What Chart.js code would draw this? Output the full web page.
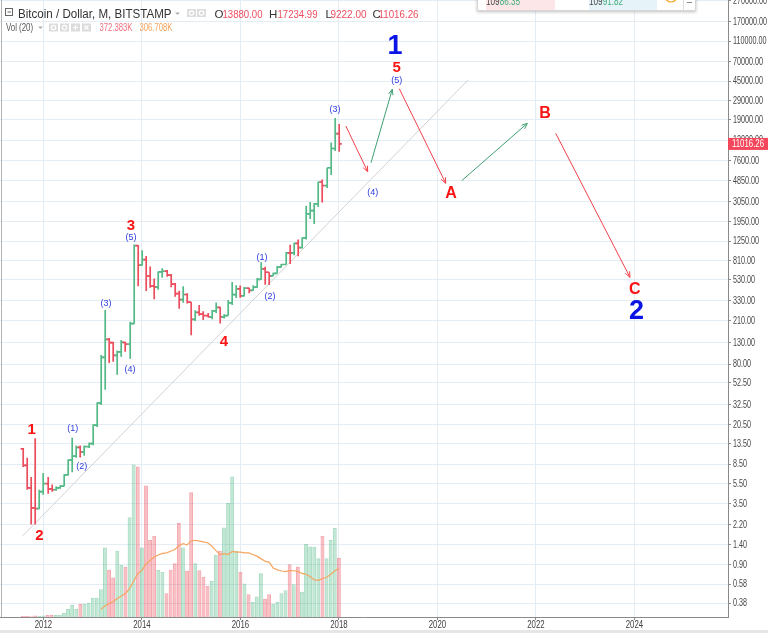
<!DOCTYPE html>
<html>
<head>
<meta charset="utf-8">
<script src="https://cdn.jsdelivr.net/npm/chart.js@4.4.1/dist/chart.umd.min.js"></script>
<style>
  html, body { margin: 0; padding: 0; background: #fff; }
  #wrap { width: 768px; height: 633px; }
</style>
</head>
<body>
<div id="wrap"><canvas id="btcChart" width="768" height="633"></canvas></div>
<script>
// monthly bars, BITSTAMP BTCUSD
const months = [
  '2011-08','2011-09','2011-10','2011-11','2011-12',
  '2012-01','2012-02','2012-03','2012-04','2012-05','2012-06','2012-07','2012-08','2012-09','2012-10','2012-11','2012-12',
  '2013-01','2013-02','2013-03','2013-04','2013-05','2013-06','2013-07','2013-08','2013-09','2013-10','2013-11','2013-12',
  '2014-01','2014-02','2014-03','2014-04','2014-05','2014-06','2014-07','2014-08','2014-09','2014-10','2014-11','2014-12',
  '2015-01','2015-02','2015-03','2015-04','2015-05','2015-06','2015-07','2015-08','2015-09','2015-10','2015-11','2015-12',
  '2016-01','2016-02','2016-03','2016-04','2016-05','2016-06','2016-07','2016-08','2016-09','2016-10','2016-11','2016-12',
  '2017-01','2017-02','2017-03','2017-04','2017-05','2017-06','2017-07','2017-08','2017-09','2017-10','2017-11','2017-12',
  '2018-01'
];
const opens = [
  12.0, 8.3, 5.0, 3.2, 3.15,
  4.6, 5.5, 4.9, 4.8, 5.0, 5.2, 6.7, 9.3, 10.2, 12.4, 11.2, 12.6,
  13.5, 20.4, 33.4, 93, 139, 129, 97, 105, 130, 125, 198, 1130,
  732, 829, 573, 458, 448, 628, 640, 585, 478, 387, 338, 379,
  320, 217, 254, 244, 236, 230, 263, 284, 230, 236, 314, 378,
  430, 368, 437, 416, 448, 531, 673, 624, 575, 609, 698, 742,
  964, 962, 1190, 1080, 1348, 2300, 2480, 2875, 4700, 4339, 6468, 9947,
  13880.00
];
const highs = [
  12.2, 9.8, 6.4, 15.2, 4.8,
  7.0, 6.4, 5.4, 5.2, 5.3, 6.8, 9.5, 15.4, 12.9, 12.9, 12.9, 13.8,
  20.8, 34.0, 98, 268, 143, 132, 108, 137, 132, 206, 1163, 1150,
  1022, 895, 711, 542, 633, 681, 657, 600, 490, 412, 456, 390,
  320, 267, 300, 261, 250, 268, 317, 288, 244, 335, 502, 466,
  463, 448, 440, 467, 549, 778, 705, 624, 617, 716, 752, 979,
  1153, 1208, 1296, 1355, 2760, 2999, 2930, 4736, 4975, 6470, 11395, 19666,
  17234.99
];
const lows = [
  8.0, 4.8, 2.2, 2.2, 3.1,
  4.3, 4.4, 4.6, 4.7, 4.9, 5.2, 6.6, 7.1, 9.8, 9.9, 10.3, 12.2,
  13.0, 19.5, 32, 45, 82, 84, 63, 94, 105, 90, 196, 455,
  725, 410, 440, 340, 421, 550, 565, 445, 360, 275, 315, 310,
  152, 210, 235, 214, 226, 218, 250, 198, 222, 235, 300, 350,
  352, 362, 390, 412, 440, 527, 472, 470, 570, 606, 692, 740,
  752, 910, 890, 1060, 1300, 2050, 1837, 2687, 2975, 4110, 5506, 9380,
  9222.00
];
const closes = [
  8.3, 5.0, 3.2, 3.15, 4.6,
  5.5, 4.9, 4.8, 5.0, 5.2, 6.7, 9.3, 10.2, 12.4, 11.2, 12.6, 13.5,
  20.4, 33.4, 93, 139, 129, 97, 105, 130, 125, 198, 1130, 732,
  829, 573, 458, 448, 628, 640, 585, 478, 387, 338, 379, 320,
  217, 254, 244, 236, 230, 263, 284, 230, 236, 314, 378, 430,
  368, 437, 416, 448, 531, 673, 624, 575, 609, 698, 742, 964,
  962, 1190, 1080, 1348, 2300, 2480, 2875, 4700, 4339, 6468, 9947, 13880,
  11016.26
];
// volume in thousands of BTC
const volumes = [
  6, 6, 5, 9, 6,
  9, 12, 12, 13, 13, 25, 51, 76, 51, 82, 82, 89,
  122, 122, 176, 439, 298, 249, 418, 330, 317, 630, 964, 951,
  439, 831, 486, 514, 298, 285, 150, 298, 340, 594, 439, 292,
  788, 340, 296, 254, 197, 228, 393, 418, 566, 721, 888, 418,
  285, 211, 144, 95, 129, 277, 116, 144, 84, 95, 150, 169,
  334, 207, 317, 159, 461, 446, 444, 372, 514, 372, 486, 562,
  372.383
];
const priceTicks = [0.38, 0.58, 0.90, 1.40, 2.20, 3.50, 5.50, 8.50, 13.50, 20.50, 32.50, 52.50, 80, 130, 210, 330,
  530, 810, 1250, 1950, 3050, 4850, 7600, 12000, 19000, 29000, 45000, 70000, 110000, 170000, 270000];
const yearTicks = [2012, 2014, 2016, 2018, 2020, 2022, 2024];

// wave count drawn on the chart: [text, months from Jan 2012, price, kind]
const waveLabels = [
  ['1', 85.7, 96400, 'major'], ['2', 144.5, 258, 'major'],
  ['1', -2.85, 18.3, 'primary'], ['2', -1.0, 1.71, 'primary'], ['3', 21.35, 1754, 'primary'],
  ['4', 44.0, 131, 'primary'], ['5', 86.1, 60650, 'primary'],
  ['A', 99.3, 3590, 'abc'], ['B', 122.2, 21530, 'abc'], ['C', 144.1, 426, 'abc'],
  ['(1)', 7.14, 18.7, 'minor'], ['(2)', 9.33, 8.04, 'minor'], ['(3)', 15.25, 313, 'minor'],
  ['(4)', 21.1, 70, 'minor'], ['(5)', 21.35, 1343, 'minor'], ['(1)', 53.27, 877, 'minor'],
  ['(2)', 55.22, 366, 'minor'], ['(3)', 71.05, 23550, 'minor'], ['(4)', 80.24, 3733, 'minor'],
  ['(5)', 86.1, 46000, 'minor']
];
// projected path: [from month, from price, to month, to price, direction]
const waveArrows = [
  [73.7, 16440, 79.02, 5916, 'down'],
  [79.83, 7240, 85.01, 37400, 'up'],
  [86.72, 37900, 98.03, 4565, 'down'],
  [101.93, 4840, 117.91, 17460, 'up'],
  [124.83, 13970, 142.93, 557, 'down']
];
const trendLine = [{ x: -5.04, y: 1.71 }, { x: 103.46, y: 46030 }];

const upColor = '#53b987';
const downColor = '#eb4d5c';
const sans = '"Liberation Sans", Arial, sans-serif';

const monthPos = (s) => (parseInt(s.slice(0, 4)) - 2012) * 12 + parseInt(s.slice(5, 7)) - 1;

document.addEventListener('DOMContentLoaded', function () {
  const isUp = (i) => closes[i] >= opens[i];

  const volumePoints = months.map((m, i) => ({ x: monthPos(m), y: volumes[i] }));
  const volumeMa = [];
  for (let i = 19; i < volumes.length; i++) {
    let s = 0;
    for (let j = i - 19; j <= i; j++) s += volumes[j];
    volumeMa.push({ x: monthPos(months[i]), y: s / 20 });
  }

  // the reference uses a condensed face, squeeze text to the measured width
  const squeeze = (ctx, text, x, y, ratio) => {
    const w = ctx.measureText(text).width * ratio;
    ctx.fillText(text, x, y, w);
    return w;
  };

  const ohlcPlugin = {
    id: 'ohlcBars',
    afterDatasetsDraw(chart) {
      const { ctx, scales: { x, y } } = chart;
      ctx.save();
      ctx.lineWidth = 1.7;
      months.forEach((m, i) => {
        const px = Math.round(x.getPixelForValue(monthPos(m))) + 0.2;
        ctx.strokeStyle = isUp(i) ? upColor : downColor;
        const yo = y.getPixelForValue(opens[i]);
        const yc = y.getPixelForValue(closes[i]);
        ctx.beginPath();
        ctx.moveTo(px, y.getPixelForValue(highs[i]));
        ctx.lineTo(px, y.getPixelForValue(lows[i]));
        ctx.moveTo(px - 2.6, yo); ctx.lineTo(px, yo);
        ctx.moveTo(px, yc); ctx.lineTo(px + 2.6, yc);
        ctx.stroke();
      });
      ctx.restore();
    }
  };

  const wavePlugin = {
    id: 'waveCount',
    afterDatasetsDraw(chart) {
      const { ctx, scales: { x, y } } = chart;
      ctx.save();
      waveArrows.forEach(a => {
        const x1 = x.getPixelForValue(a[0]), y1 = y.getPixelForValue(a[1]);
        const x2 = x.getPixelForValue(a[2]), y2 = y.getPixelForValue(a[3]);
        const ang = Math.atan2(y2 - y1, x2 - x1);
        ctx.strokeStyle = a[4] === 'up' ? '#3f9f70' : '#f0414a';
        ctx.lineWidth = 1;
        ctx.beginPath();
        ctx.moveTo(x1, y1); ctx.lineTo(x2, y2);
        ctx.moveTo(x2 - 6 * Math.cos(ang - 0.4), y2 - 6 * Math.sin(ang - 0.4));
        ctx.lineTo(x2, y2);
        ctx.lineTo(x2 - 6 * Math.cos(ang + 0.4), y2 - 6 * Math.sin(ang + 0.4));
        ctx.stroke();
      });
      ctx.textAlign = 'center';
      ctx.textBaseline = 'middle';
      waveLabels.forEach(l => {
        const kind = l[3];
        if (kind === 'major') { ctx.font = 'bold 27px ' + sans; ctx.fillStyle = '#0a14e6'; }
        else if (kind === 'primary') { ctx.font = 'bold 15px ' + sans; ctx.fillStyle = '#fa1414'; }
        else if (kind === 'abc') { ctx.font = 'bold 16px ' + sans; ctx.fillStyle = '#fa1414'; }
        else { ctx.font = '9px ' + sans; ctx.fillStyle = '#2d3be0'; }
        ctx.fillText(l[0], x.getPixelForValue(l[1]), y.getPixelForValue(l[2]));
      });
      ctx.restore();
    }
  };

  const headerPlugin = {
    id: 'header',
    afterDraw(chart) {
      const { ctx, chartArea, scales: { x, y } } = chart;
      ctx.save();
      // pane frame and bottom strip
      ctx.strokeStyle = '#b4b4b4';
      ctx.lineWidth = 1;
      ctx.beginPath(); ctx.moveTo(1.5, 0); ctx.lineTo(1.5, chartArea.bottom); ctx.stroke();
      ctx.fillStyle = '#e6e6e6';
      ctx.fillRect(0, 630, 768, 3);

      // axis labels
      ctx.font = '10px ' + sans;
      ctx.fillStyle = '#474747';
      ctx.textAlign = 'left';
      ctx.textBaseline = 'middle';
      y.ticks.forEach(t => {
        squeeze(ctx, Number(t.value).toFixed(2), chartArea.right + 5, y.getPixelForValue(t.value) + 0.5, 0.72);
      });
      ctx.textAlign = 'center';
      ctx.fillStyle = '#404040';
      x.ticks.forEach(t => {
        squeeze(ctx, String(2012 + t.value / 12), x.getPixelForValue(t.value), chartArea.bottom + 8.5, 0.78);
      });

      // legend line 1
      ctx.textAlign = 'left';
      ctx.textBaseline = 'alphabetic';
      ctx.strokeStyle = '#666';
      ctx.strokeRect(5.5, 8.5, 7, 7);
      ctx.beginPath(); ctx.moveTo(7.5, 12); ctx.lineTo(11, 12); ctx.stroke();
      ctx.font = '12.5px ' + sans;
      ctx.fillStyle = '#333';
      ctx.fillText('Bitcoin / Dollar, M, BITSTAMP', 18, 17.5, 153.5);
      const tri = (tx, ty) => {
        ctx.fillStyle = '#b0b0b0';
        ctx.beginPath(); ctx.moveTo(tx, ty); ctx.lineTo(tx + 5, ty); ctx.lineTo(tx + 2.5, ty + 2.5); ctx.fill();
      };
      const box = (bx, by, glyph) => {
        ctx.fillStyle = '#dcdcdc';
        ctx.fillRect(bx, by, 9, 8);
        ctx.strokeStyle = '#fff';
        ctx.lineWidth = 1.2;
        ctx.beginPath();
        const cx = bx + 4.5, cy = by + 4;
        if (glyph === 'plus') { ctx.moveTo(cx - 2.5, cy); ctx.lineTo(cx + 2.5, cy); ctx.moveTo(cx, cy - 2.5); ctx.lineTo(cx, cy + 2.5); }
        else if (glyph === 'x') { ctx.moveTo(cx - 2, cy - 2); ctx.lineTo(cx + 2, cy + 2); ctx.moveTo(cx + 2, cy - 2); ctx.lineTo(cx - 2, cy + 2); }
        else { ctx.arc(cx, cy, 2.2, 0, Math.PI * 2); }
        ctx.stroke();
      };
      tri(175, 12.5);
      box(187, 9, 'eye'); box(197, 9, 'gear');
      const ohlc = [['O', 214.5, '13880.00', 222.5, 40], ['H', 269, '17234.99', 277.5, 40],
        ['L', 325.5, '9222.00', 330.5, 36], ['C', 372.5, '11016.26', 378.5, 40]];
      ctx.font = '11.5px ' + sans;
      ohlc.forEach(v => {
        ctx.fillStyle = '#333';
        ctx.fillText(v[0], v[1], 17.5);
        ctx.fillStyle = '#ee4d5f';
        ctx.fillText(v[2], v[3], 17.5, v[4]);
      });

      // legend line 2
      ctx.font = '10px ' + sans;
      ctx.fillStyle = '#555';
      ctx.fillText('Vol (20)', 6, 31, 27);
      tri(38, 26.5);
      box(49, 23.5, 'eye'); box(60, 23.5, 'gear'); box(71, 23.5, 'plus'); box(82, 23.5, 'x');
      ctx.fillStyle = '#f0707e';
      ctx.fillText('372.383K', 99.5, 31, 33);
      ctx.fillStyle = '#f5a35a';
      ctx.fillText('306.708K', 139.5, 31, 33);

      // cut-off order widget at the top
      ctx.shadowColor = 'rgba(0,0,0,0.25)';
      ctx.shadowBlur = 3;
      ctx.shadowOffsetY = 1;
      ctx.fillStyle = '#fff';
      ctx.fillRect(477, -6, 219, 16.5);
      ctx.shadowColor = 'transparent';
      ctx.strokeStyle = '#d6d6d6';
      ctx.lineWidth = 1;
      ctx.strokeRect(477.5, -6, 218, 16.5);
      ctx.fillStyle = '#fde6e8';
      ctx.fillRect(486, -6, 69, 16);
      ctx.fillStyle = '#e6f4fa';
      ctx.fillRect(589, -6, 68, 16);
      ctx.font = '10.5px ' + sans;
      const quote = (qx, head, tail) => {
        ctx.fillStyle = '#444';
        const w = squeeze(ctx, head, qx, 4.5, 0.78);
        ctx.fillStyle = '#3fae79';
        squeeze(ctx, tail, qx + w, 4.5, 0.78);
      };
      quote(486, '109', '86.35');
      quote(589, '109', '91.82');
      ctx.strokeStyle = '#f5a623';
      ctx.lineWidth = 1.2;
      ctx.beginPath(); ctx.arc(671, -4, 6, 0, Math.PI); ctx.stroke();
      ctx.strokeStyle = '#ddd';
      ctx.lineWidth = 1;
      ctx.beginPath(); ctx.moveTo(683.5, -6); ctx.lineTo(683.5, 10); ctx.stroke();
      ctx.strokeStyle = '#888';
      ctx.beginPath(); ctx.moveTo(687, 2.5); ctx.lineTo(692, 2.5); ctx.stroke();

      // last price tag on the price axis
      const lastClose = closes[closes.length - 1];
      const ty = y.getPixelForValue(lastClose);
      ctx.fillStyle = '#f5475b';
      ctx.fillRect(chartArea.right, ty - 6, 40, 12);
      ctx.fillStyle = '#fff';
      ctx.font = '10px ' + sans;
      ctx.textBaseline = 'middle';
      ctx.fillText(lastClose.toFixed(2), chartArea.right + 4, ty + 0.5, 32);
      ctx.restore();
    }
  };

  const ctx = document.getElementById('btcChart').getContext('2d');
  new Chart(ctx, {
    type: 'bar',
    data: {
      datasets: [
        {
          type: 'line',
          label: 'Vol MA 20',
          data: volumeMa,
          yAxisID: 'yVol',
          borderColor: '#f6a560',
          borderWidth: 1.2,
          pointRadius: 0,
          tension: 0,
          order: 1
        },
        {
          type: 'line',
          label: 'Trend',
          data: trendLine,
          yAxisID: 'y',
          borderColor: '#d2d2d2',
          borderWidth: 1,
          pointRadius: 0,
          order: 2
        },
        {
          type: 'bar',
          label: 'Vol',
          data: volumePoints,
          yAxisID: 'yVol',
          backgroundColor: months.map((m, i) => isUp(i) ? 'rgba(83,185,135,0.35)' : 'rgba(235,77,92,0.35)'),
          borderColor: months.map((m, i) => isUp(i) ? 'rgba(83,185,135,0.5)' : 'rgba(235,77,92,0.5)'),
          borderWidth: 1,
          barPercentage: 0.95,
          categoryPercentage: 1,
          order: 3
        }
      ]
    },
    options: {
      responsive: false,
      animation: false,
      devicePixelRatio: 1,
      layout: { padding: 0 },
      plugins: { legend: { display: false }, tooltip: { enabled: false } },
      scales: {
        x: {
          type: 'linear',
          min: -10.575,
          max: 166.81,
          bounds: 'data',
          offset: false,
          grid: { color: '#e5edf4', tickColor: '#8a8a8a', tickLength: 3, offset: false },
          border: { color: '#8a8a8a' },
          ticks: { display: false, autoSkip: false },
          afterBuildTicks: (scale) => { scale.ticks = yearTicks.map(yr => ({ value: (yr - 2012) * 12 })); },
          afterFit: (scale) => { scale.height = 16; scale.paddingLeft = 0; scale.paddingRight = 0; }
        },
        y: {
          type: 'logarithmic',
          position: 'right',
          min: 0.2784,
          max: 275900,
          bounds: 'data',
          grid: { color: '#e5edf4', tickColor: '#8a8a8a', tickLength: 3 },
          border: { color: '#8a8a8a' },
          ticks: { display: false, autoSkip: false },
          afterBuildTicks: (scale) => { scale.ticks = priceTicks.map(v => ({ value: v })); },
          afterFit: (scale) => { scale.width = 40; scale.paddingTop = 0; scale.paddingBottom = 0; }
        },
        yVol: {
          type: 'linear',
          display: false,
          min: 0,
          max: 3900
        }
      }
    },
    plugins: [ohlcPlugin, wavePlugin, headerPlugin]
  });
});
</script>
</body>
</html>
